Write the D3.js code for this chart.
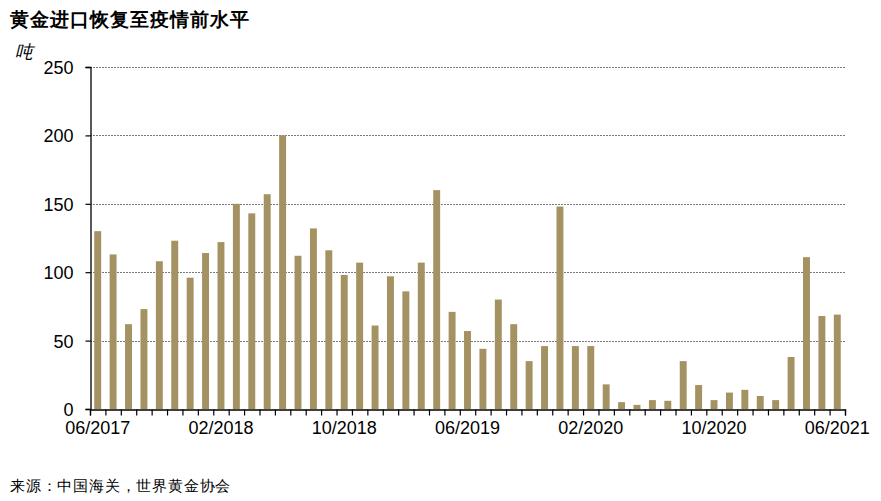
<!DOCTYPE html>
<html>
<head>
<meta charset="utf-8">
<script src="https://cdn.jsdelivr.net/npm/d3@7"></script>
<style>
  html, body { margin: 0; padding: 0; background: #fff; }
  svg { display: block; }
  text { font-family: "Liberation Sans", Arial, sans-serif; }
</style>
</head>
<body>
<svg id="chart" width="881" height="501"></svg>
<script>
const title = "黄金进口恢复至疫情前水平";
const unitLabel = "吨";
const sourceText = "来源：中国海关，世界黄金协会";

const months = [
  "06/2017","07/2017","08/2017","09/2017","10/2017","11/2017","12/2017",
  "01/2018","02/2018","03/2018","04/2018","05/2018","06/2018","07/2018","08/2018","09/2018","10/2018","11/2018","12/2018",
  "01/2019","02/2019","03/2019","04/2019","05/2019","06/2019","07/2019","08/2019","09/2019","10/2019","11/2019","12/2019",
  "01/2020","02/2020","03/2020","04/2020","05/2020","06/2020","07/2020","08/2020","09/2020","10/2020","11/2020","12/2020",
  "01/2021","02/2021","03/2021","04/2021","05/2021","06/2021"
];
const imports = [
  130, 113, 62, 73, 108, 123, 96,
  114, 122, 150, 143, 157, 200, 112, 132, 116, 98, 107, 61,
  97, 86, 107, 160, 71, 57, 44, 80, 62, 35, 46, 148,
  46, 46, 18, 5, 3, 6.5, 6, 35, 17.5, 6.5, 12, 14,
  9.5, 6.5, 38, 111, 68, 69
];
const yTicks = [0, 50, 100, 150, 200, 250];
const xLabels = ["06/2017","02/2018","10/2018","06/2019","02/2020","10/2020","06/2021"];

const svg = d3.select("#chart");
const mLeft = 90, mRight = 845, mTop = 67, mBottom = 409;

const x = d3.scaleBand().domain(months).range([mLeft, mRight]).paddingInner(0.55).paddingOuter(0.275);
const xEdge = d3.scaleLinear().domain([0, months.length]).range([mLeft, mRight]);
const y = d3.scaleLinear().domain([0, 250]).range([mBottom, mTop]);

// gridlines
svg.append("g")
  .selectAll("line")
  .data(yTicks.filter(d => d > 0))
  .join("line")
  .attr("x1", mLeft).attr("x2", mRight)
  .attr("y1", d => Math.round(y(d)) + 0.5).attr("y2", d => Math.round(y(d)) + 0.5)
  .attr("stroke", "#7a7a7a")
  .attr("stroke-width", 1)
  .attr("stroke-dasharray", "2,1");

// bars
svg.append("g")
  .selectAll("rect")
  .data(months)
  .join("rect")
  .attr("x", d => x(d))
  .attr("width", x.bandwidth())
  .attr("y", (d, i) => y(imports[i]))
  .attr("height", (d, i) => y(0) - y(imports[i]))
  .attr("fill", "#a59262");

// y axis
const yAxis = svg.append("g")
  .attr("transform", `translate(${mLeft + 0.5},0)`)
  .call(d3.axisLeft(y).tickValues(yTicks).tickSize(5).tickPadding(12));
yAxis.select(".domain").attr("stroke", "#000").attr("stroke-width", 1.3);
yAxis.selectAll(".tick line").attr("stroke", "#000").attr("stroke-width", 1.2);
yAxis.selectAll(".tick text")
  .attr("font-size", 18)
  .attr("fill", "#000")
  .attr("font-family", "'Liberation Sans', Arial, sans-serif")
  .attr("dy", "0.36em");

// x axis tick marks at band edges
const xTickAxis = svg.append("g")
  .attr("transform", `translate(0,${mBottom + 0.5})`)
  .call(d3.axisBottom(xEdge).tickValues(d3.range(0, months.length + 1)).tickSize(6).tickFormat(""));
xTickAxis.select(".domain").attr("stroke", "#000").attr("stroke-width", 1.3);
xTickAxis.selectAll(".tick line").attr("stroke", "#000").attr("stroke-width", 1.2);

// x axis labels
const xLabelAxis = svg.append("g")
  .attr("transform", `translate(0,${mBottom})`)
  .call(d3.axisBottom(x).tickValues(xLabels).tickSize(0).tickPadding(12));
xLabelAxis.select(".domain").remove();
xLabelAxis.selectAll(".tick text")
  .attr("font-size", 18)
  .attr("fill", "#000")
  .attr("font-family", "'Liberation Sans', Arial, sans-serif");

// title
svg.append("text")
  .attr("x", 10).attr("y", 26)
  .attr("font-family", "'Noto Sans CJK SC', sans-serif")
  .attr("font-weight", "bold")
  .attr("font-size", 19)
  .attr("letter-spacing", 1)
  .attr("fill", "#000")
  .text(title);

// unit
svg.append("text")
  .attr("x", 15).attr("y", 58)
  .attr("font-family", "'Noto Sans CJK SC', sans-serif")
  .attr("font-style", "italic")
  .attr("font-size", 18)
  .attr("fill", "#000")
  .text(unitLabel);

// source
svg.append("text")
  .attr("x", 10).attr("y", 491)
  .attr("font-family", "'Noto Sans CJK SC', sans-serif")
  .attr("font-size", 15)
  .attr("letter-spacing", 0.8)
  .attr("fill", "#000")
  .text(sourceText);
</script>
</body>
</html>
